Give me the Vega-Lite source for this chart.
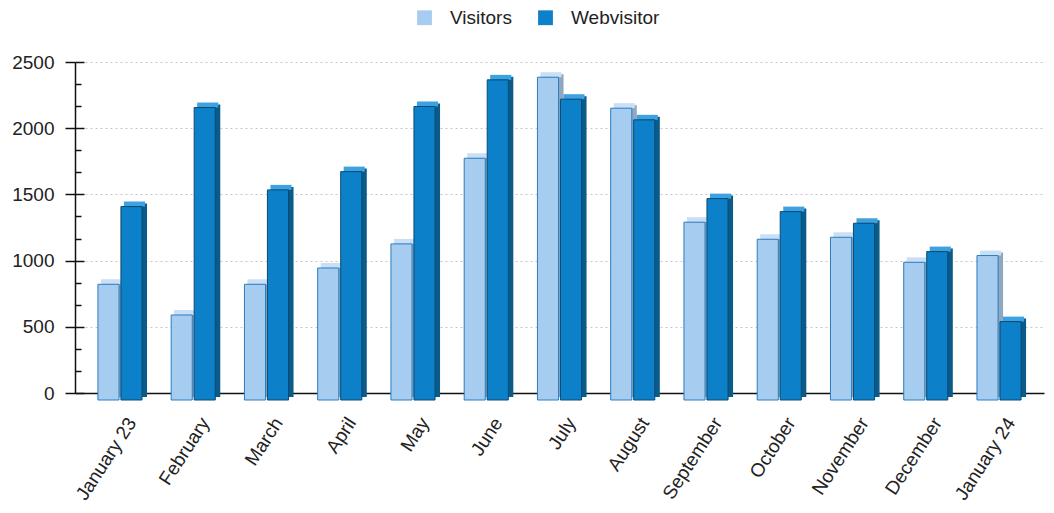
{
  "$schema": "https://vega.github.io/schema/vega-lite/v6.json",
  "width": 969,
  "height": 331,
  "autosize": {"type": "none"},
  "padding": {"left": 75, "top": 62, "right": 10, "bottom": 120},
  "background": "white",
  "config": {"font": "Liberation Sans", "view": {"stroke": null}},
  "data": {
    "values": [
      {"month": "January 23", "series": "Visitors", "value": 874},
      {"month": "January 23", "series": "Webvisitor", "value": 1461},
      {"month": "February", "series": "Visitors", "value": 642},
      {"month": "February", "series": "Webvisitor", "value": 2209},
      {"month": "March", "series": "Visitors", "value": 874},
      {"month": "March", "series": "Webvisitor", "value": 1587},
      {"month": "April", "series": "Visitors", "value": 997},
      {"month": "April", "series": "Webvisitor", "value": 1725},
      {"month": "May", "series": "Visitors", "value": 1179},
      {"month": "May", "series": "Webvisitor", "value": 2217},
      {"month": "June", "series": "Visitors", "value": 1826},
      {"month": "June", "series": "Webvisitor", "value": 2418},
      {"month": "July", "series": "Visitors", "value": 2438},
      {"month": "July", "series": "Webvisitor", "value": 2272},
      {"month": "August", "series": "Visitors", "value": 2204},
      {"month": "August", "series": "Webvisitor", "value": 2116},
      {"month": "September", "series": "Visitors", "value": 1343},
      {"month": "September", "series": "Webvisitor", "value": 1521},
      {"month": "October", "series": "Visitors", "value": 1214},
      {"month": "October", "series": "Webvisitor", "value": 1423},
      {"month": "November", "series": "Visitors", "value": 1229},
      {"month": "November", "series": "Webvisitor", "value": 1335},
      {"month": "December", "series": "Visitors", "value": 1040},
      {"month": "December", "series": "Webvisitor", "value": 1121},
      {"month": "January 24", "series": "Visitors", "value": 1091},
      {"month": "January 24", "series": "Webvisitor", "value": 592}
    ]
  },
  "encoding": {
    "x": {
      "field": "month",
      "type": "nominal",
      "sort": ["January 23", "February", "March", "April", "May", "June", "July", "August", "September", "October", "November", "December", "January 24"],
      "scale": {"paddingInner": 0.4, "paddingOuter": 0.314},
      "axis": {
        "title": null,
        "labelAngle": -57,
        "labelFontSize": 19,
        "labelColor": "#222222",
        "labelPadding": 26,
        "labelOffset": 12,
        "ticks": false,
        "domainColor": "#111111",
        "domainWidth": 1.5
      }
    },
    "y": {
      "field": "value",
      "type": "quantitative",
      "scale": {"domain": [0, 2500], "nice": false},
      "axis": null
    }
  },
  "layer": [
    {
      "transform": [{"filter": "datum.series === 'Visitors'"}],
      "mark": {"type": "bar", "width": {"band": 0.48}, "xOffset": -6.5, "yOffset": 4, "y2Offset": 4, "color": "#8fa8c0"},
      "encoding": {
        "y": {
          "field": "value",
          "type": "quantitative",
          "axis": {
            "orient": "left",
            "title": null,
            "values": [0, 500, 1000, 1500, 2000, 2500],
            "format": "d",
            "grid": true,
            "gridDash": [2, 3],
            "gridColor": "#c4c4d4",
            "tickSize": 10,
            "tickColor": "#111111",
            "tickWidth": 1.5,
            "domainColor": "#111111",
            "domainWidth": 1.5,
            "labelFontSize": 19,
            "labelColor": "#222222",
            "labelPadding": 11
          }
        }
      }
    },
    {
      "transform": [{"filter": "datum.series === 'Webvisitor'"}],
      "mark": {"type": "bar", "width": {"band": 0.48}, "xOffset": 16.5, "yOffset": 4, "y2Offset": 4, "color": "#0a5b8a"}
    },
    {
      "transform": [{"filter": "datum.series === 'Visitors'"}],
      "mark": {"type": "bar", "width": {"band": 0.48}, "xOffset": -8.5, "yOffset": 2, "y2Offset": 7, "color": "#c8dff5"},
      "encoding": {
        "y": {
          "field": "value",
          "type": "quantitative",
          "axis": {
            "orient": "left",
            "title": null,
            "values": [166.67, 333.33, 666.67, 833.33, 1166.67, 1333.33, 1666.67, 1833.33, 2166.67, 2333.33],
            "grid": false,
            "domain": false,
            "labels": false,
            "tickSize": -6,
            "tickColor": "#111111",
            "tickWidth": 1.5
          }
        },
        "y2": {"field": "value"}
      }
    },
    {
      "transform": [{"filter": "datum.series === 'Webvisitor'"}],
      "mark": {"type": "bar", "width": {"band": 0.48}, "xOffset": 14.5, "yOffset": 2, "y2Offset": 7, "color": "#3da2e2"},
      "encoding": {"y2": {"field": "value"}}
    },
    {
      "transform": [{"filter": "datum.series === 'Visitors'"}],
      "mark": {"type": "bar", "width": {"band": 0.48}, "xOffset": -11.5, "yOffset": 7, "y2Offset": 7, "strokeWidth": 1, "stroke": "#2a7cc0"},
      "encoding": {
        "y": {
          "field": "value",
          "type": "quantitative",
          "axis": {
            "orient": "left",
            "title": null,
            "values": [0, 500, 1000, 1500, 2000, 2500],
            "grid": false,
            "domain": false,
            "labels": false,
            "tickSize": -9,
            "tickColor": "#111111",
            "tickWidth": 1.5
          }
        },
        "color": {
          "field": "series",
          "type": "nominal",
          "scale": {"domain": ["Visitors", "Webvisitor"], "range": ["#a6cdf0", "#0c81c9"]},
          "legend": {
            "orient": "none",
            "legendX": 340,
            "legendY": -54,
            "direction": "horizontal",
            "title": null,
            "padding": 0,
            "symbolType": "square",
            "symbolSize": 220,
            "symbolStrokeWidth": 0,
            "labelFontSize": 19,
            "labelColor": "#222222",
            "labelOffset": 16,
            "columnPadding": 24
          }
        }
      }
    },
    {
      "transform": [{"filter": "datum.series === 'Webvisitor'"}],
      "mark": {"type": "bar", "width": {"band": 0.48}, "xOffset": 11.5, "yOffset": 7, "y2Offset": 7, "strokeWidth": 1, "stroke": "#0b4a70"},
      "encoding": {
        "color": {"field": "series", "type": "nominal"}
      }
    }
  ],
  "resolve": {"axis": {"y": "independent"}}
}
